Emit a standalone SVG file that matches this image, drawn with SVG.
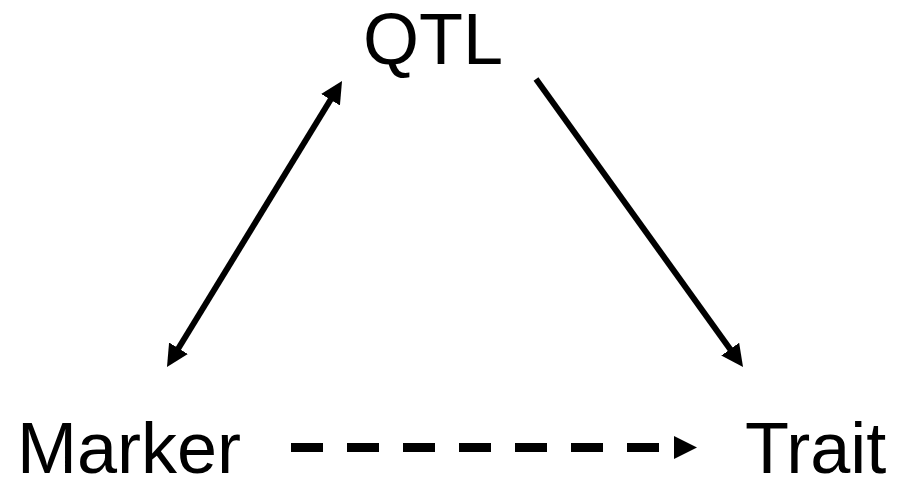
<svg xmlns="http://www.w3.org/2000/svg" width="905" height="478" viewBox="0 0 905 478">
<style>
.lbl{font-family:"Liberation Sans",Arial,sans-serif;font-size:72px;fill:#000}
.edge{stroke:#000;fill:none}
</style>
<defs>
<marker id="head" viewBox="0 0 22 22" markerWidth="22" markerHeight="22" refX="12" refY="11" orient="auto-start-reverse" markerUnits="userSpaceOnUse">
<path d="M0,0 L22,11 L0,22 z" fill="#000"/>
</marker>
<marker id="tri" viewBox="0 0 23 23" markerWidth="23" markerHeight="23" refX="0" refY="11.5" orient="auto" markerUnits="userSpaceOnUse">
<path d="M0,0 L23,11.5 L0,23 z" fill="#000"/>
</marker>
</defs>
<rect width="905" height="478" fill="#fff"/>
<g id="connectors">
<line class="edge" x1="172.2" y1="358.5" x2="336.8" y2="89.5" stroke-width="6" marker-start="url(#head)" marker-end="url(#head)"/>
<line class="edge" x1="536" y1="79" x2="737.2" y2="358.9" stroke-width="6" marker-end="url(#head)"/>
<line class="edge" x1="291" y1="447.5" x2="674" y2="447.5" stroke-width="9" stroke-dasharray="32 24" marker-end="url(#tri)"/>
</g>
<g id="qtl"><text class="lbl" x="363" y="64">QTL</text></g>
<g id="marker"><text class="lbl" x="17" y="473">Marker</text></g>
<g id="trait"><text class="lbl" x="745" y="473">Trait</text></g>
</svg>
